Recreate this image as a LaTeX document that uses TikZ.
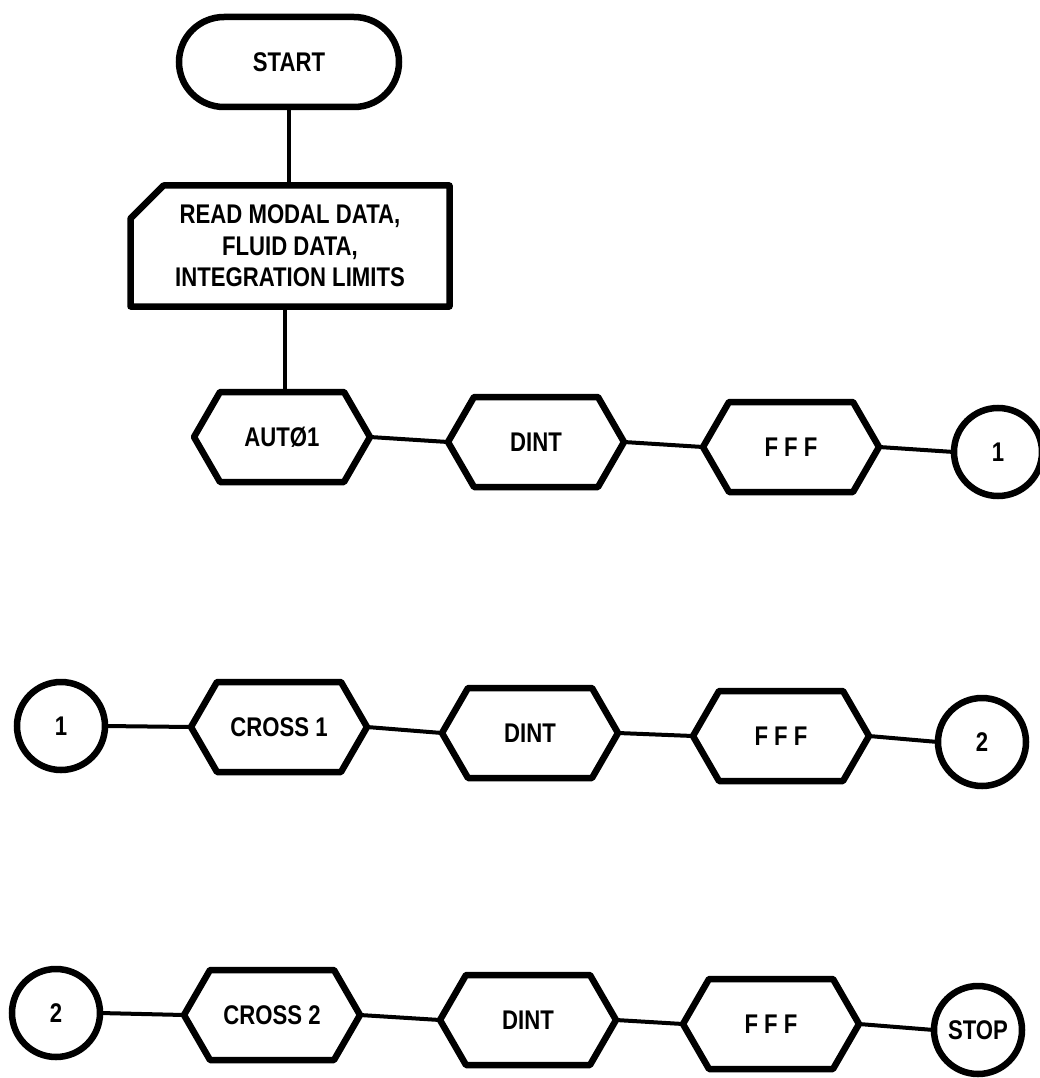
\documentclass[tikz,border=0pt]{standalone}
\usepackage{fontspec}
\newfontfamily\flowfont[FakeStretch=0.82]{Liberation Sans}
\begin{document}
\begin{tikzpicture}[x=1pt,y=-1pt,
  lbl/.style={font=\flowfont\bfseries\fontsize{27}{31.5}\selectfont, text=black},
  hexbox/.style={lbl, draw=none, minimum width=176pt, minimum height=90pt, inner sep=0pt, outer sep=0pt},
  joint/.style={lbl, circle, draw, line width=6.5pt, minimum size=88pt, inner sep=0pt, outer sep=0pt},
  outline/.style={line width=6.5pt, line join=round},
  conn/.style={line width=4pt}]
\useasboundingbox (0,0) rectangle (1039,1078);
\fill[white] (0,0) rectangle (1039,1078);

% top part
\node[lbl, draw, line width=6.5pt, rounded corners=45pt, minimum width=220pt, minimum height=90pt, outer sep=0pt] (start) at (289,62) {START};
\node[lbl, align=center, minimum width=319pt, minimum height=121pt, inner sep=0pt, outer sep=0pt] (read) at (290,246) {READ MODAL DATA,\\FLUID DATA,\\INTEGRATION LIMITS};
\draw[outline] ([yshift=-33pt]read.north west) -- ([xshift=33pt]read.north west) -- (read.north east) -- (read.south east) -- (read.south west) -- cycle;

% row 1
\node[hexbox] (aut) at (282,437) {AUTØ1};
\node[hexbox] (dint1) at (536,442) {DINT};
\node[hexbox] (fff1) at (791,447) {F F F};
\node[joint] (on1a) at (998,452) {1};

% row 2
\node[joint] (on1b) at (61,726) {1};
\node[hexbox] (cross1) at (279,727) {CROSS 1};
\node[hexbox] (dint2) at (530,733) {DINT};
\node[hexbox] (fff2) at (781,736) {F F F};
\node[joint] (on2a) at (982,742) {2};

% row 3
\node[joint] (on2b) at (56,1013) {2};
\node[hexbox] (cross2) at (272,1015) {CROSS 2};
\node[hexbox] (dint3) at (528,1020) {DINT};
\node[hexbox] (fff3) at (771,1024) {F F F};
\node[joint] (stop) at (978,1030) {STOP};

% hexagon outlines
\foreach \n in {aut,dint1,fff1,cross1,dint2,fff2,cross2,dint3,fff3} {
  \draw[outline] (\n.west) -- ([xshift=26pt]\n.north west) -- ([xshift=-26pt]\n.north east) -- (\n.east)
    -- ([xshift=-26pt]\n.south east) -- ([xshift=26pt]\n.south west) -- cycle;
}

% connectors
\draw[conn] (start.south) -- (start.south |- read.north);
\draw[conn] ([xshift=-5pt]read.south) -- ([xshift=-5pt]read.south |- aut.north);
\draw[conn] (aut.east) -- (dint1.west);
\draw[conn] (dint1.east) -- (fff1.west);
\draw[conn] (fff1.east) -- (on1a.west);
\draw[conn] (on1b.east) -- (cross1.west);
\draw[conn] (cross1.east) -- (dint2.west);
\draw[conn] (dint2.east) -- (fff2.west);
\draw[conn] (fff2.east) -- (on2a.west);
\draw[conn] (on2b.east) -- (cross2.west);
\draw[conn] (cross2.east) -- (dint3.west);
\draw[conn] (dint3.east) -- (fff3.west);
\draw[conn] (fff3.east) -- (stop.west);
\end{tikzpicture}
\end{document}
